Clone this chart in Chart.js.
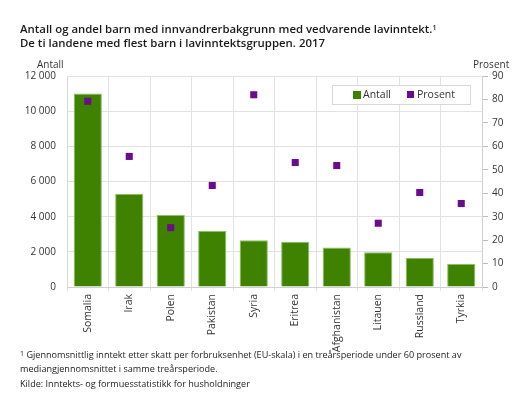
<!DOCTYPE html>
<html><head><meta charset="utf-8">
<script src="https://cdn.jsdelivr.net/npm/chart.js@4"></script>
<style>
html,body{margin:0;padding:0;background:#fff;width:531px;height:403px;overflow:hidden;font-family:"Open Sans",sans-serif;}
#wrap{position:absolute;left:0;top:0;width:531px;height:352px;}
.t{position:absolute;white-space:nowrap;color:#222;}
#title{left:20px;top:22px;font-size:11.4px;font-weight:600;line-height:14px;color:#1a1a1a;}
.ax{font-size:10px;color:#333;top:57px;}
.foot{font-size:9.1px;color:#222;left:20px;line-height:13.5px;}
sup{font-size:7px;vertical-align:top;position:relative;top:-1px;}
</style></head><body>
<div id="wrap"><canvas id="c" width="531" height="352"></canvas></div>
<div class="t" id="title">Antall og andel barn med innvandrerbakgrunn med vedvarende lavinntekt.<sup>1</sup><br>De ti landene med flest barn i lavinntektsgruppen. 2017</div>
<div class="t ax" style="left:37px;">Antall</div>
<div class="t ax" style="left:473px;">Prosent</div>
<div class="t foot" style="top:348px;"><sup>1</sup> Gjennomsnittlig inntekt etter skatt per forbruksenhet (EU-skala) i en treårsperiode under 60 prosent av<br>mediangjennomsnittet i samme treårsperiode.</div>
<div class="t foot" style="top:377px;">Kilde: Inntekts- og formuesstatistikk for husholdninger</div>
<script>
const categories = ["Somalia","Irak","Polen","Pakistan","Syria","Eritrea","Afghanistan","Litauen","Russland","Tyrkia"];
const antall = [11000,5300,4100,3200,2660,2580,2250,1980,1660,1320];
const prosent = [79.2,55.7,25.3,43.3,82.0,53.1,51.8,27.2,40.3,35.6];
const leftTicks = [0,2000,4000,6000,8000,10000,12000];
const rightTicks = [0,10,20,30,40,50,60,70,80,90];
const seriesNames = ["Antall","Prosent"];
const barColor = "#3f8200";
const pointColor = "#6a0d8c";

const fmt = v => String(v).replace(/\B(?=(\d{3})+(?!\d))/g, "\u00a0");

const legendPlugin = {
  id: "boxLegend",
  afterDraw(chart) {
    const ctx = chart.ctx;
    const x0 = 332, y0 = 85, w = 138, h = 19;
    ctx.save();
    ctx.fillStyle = "#fff";
    ctx.fillRect(x0, y0, w, h);
    ctx.strokeStyle = "#d8d8d8";
    ctx.lineWidth = 1;
    ctx.strokeRect(x0 + 0.5, y0 + 0.5, w, h);
    ctx.font = "10.5px 'Open Sans', sans-serif";
    ctx.textBaseline = "middle";
    ctx.fillStyle = barColor;
    ctx.fillRect(353, y0 + 6, 8, 8);
    ctx.fillStyle = "#333";
    ctx.fillText(seriesNames[0], 363, y0 + 10);
    ctx.fillStyle = pointColor;
    ctx.fillRect(407, y0 + 6, 7, 7);
    ctx.fillStyle = "#333";
    ctx.fillText(seriesNames[1], 417, y0 + 10);
    ctx.restore();
  }
};

new Chart(document.getElementById("c"), {
  data: {
    labels: categories,
    datasets: [
      { type: "scatter", label: seriesNames[1], data: prosent, yAxisID: "y1",
        pointStyle: "rect", pointRadius: 5, pointHoverRadius: 5,
        backgroundColor: pointColor, borderColor: pointColor, borderWidth: 0, showLine: false, order: 0 },
      { type: "bar", label: seriesNames[0], data: antall, yAxisID: "y",
        backgroundColor: barColor, borderColor: "#8fc060", borderWidth: 1,
        barPercentage: 0.68, categoryPercentage: 1.0, order: 1 }
    ]
  },
  options: {
    responsive: false,
    animation: false,
    devicePixelRatio: 1,
    layout: { padding: { top: 76, left: 0, right: 0, bottom: 0 } },
    plugins: { legend: { display: false }, tooltip: { enabled: false } },
    scales: {
      x: {
        type: "category",
        offset: true,
        grid: { display: true, offset: true, color: "#e2e2e2", tickLength: 4, drawOnChartArea: true },
        border: { display: true, color: "#d0d0d0" },
        ticks: { color: "#333", font: { size: 10.5, family: "'Open Sans', sans-serif" }, maxRotation: 90, minRotation: 90, padding: 3, autoSkip: false },
        afterFit(s) { s.height = 65; }
      },
      y: {
        position: "left", min: 0, max: 12000,
        afterBuildTicks(s) { s.ticks = leftTicks.map(v => ({ value: v })); },
        grid: { color: "#e2e2e2", drawTicks: false },
        border: { display: true, color: "#d8d8d8" },
        ticks: { color: "#333", font: { size: 10, family: "'Open Sans', sans-serif" }, padding: 11, callback: v => fmt(v) },
        afterFit(s) { s.width = 67; }
      },
      y1: {
        position: "right", min: 0, max: 90,
        afterBuildTicks(s) { s.ticks = rightTicks.map(v => ({ value: v })); },
        grid: { drawOnChartArea: false, color: "#bbb", tickLength: 6 },
        border: { display: true, color: "#d0d0d0" },
        ticks: { color: "#333", font: { size: 10, family: "'Open Sans', sans-serif" }, padding: 4 },
        afterFit(s) { s.width = 49; }
      }
    }
  },
  plugins: [legendPlugin]
});
</script>
</body></html>
